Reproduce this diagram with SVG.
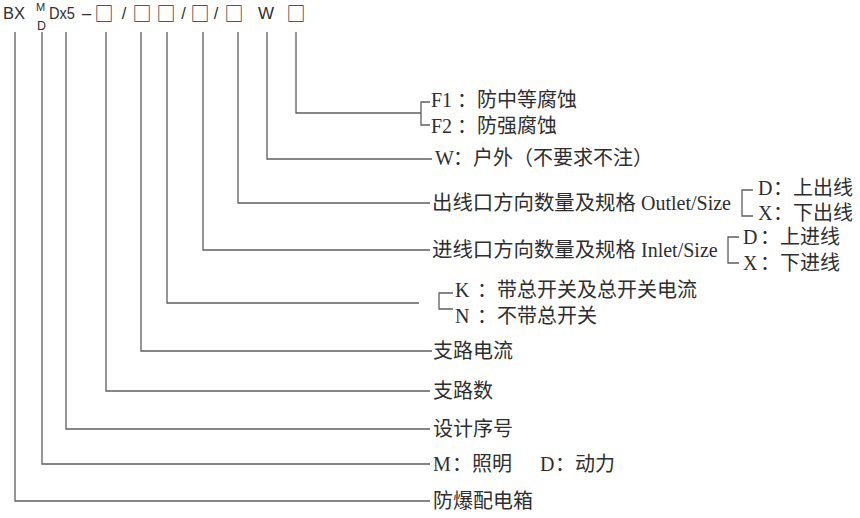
<svg xmlns="http://www.w3.org/2000/svg" width="860" height="518" viewBox="0 0 860 518">
<style>
text{fill:#2e2e2e}
.hd{font-family:"Liberation Sans",Arial,sans-serif;font-size:16.5px}
.bx{font-family:"Noto Sans CJK SC",sans-serif;font-size:19px;text-anchor:middle}
.c{font-family:"Liberation Sans","Noto Sans CJK SC",sans-serif;font-size:20px}
.l{font-family:"Liberation Serif","Times New Roman",serif;font-size:20px}
.ln{stroke:#5e5e5e;stroke-width:1.3;fill:none}
</style>
<rect width="860" height="518" fill="#ffffff"/>
<g id="header">
<text class="hd" x="3" y="19" textLength="22" lengthAdjust="spacingAndGlyphs">BX</text>
<text class="hd" x="36" y="11" style="font-size:11px">M</text>
<text class="hd" x="37" y="30" style="font-size:12.5px">D</text>
<text class="hd" x="49" y="19" textLength="26" lengthAdjust="spacingAndGlyphs">Dx5</text>
<text class="hd" x="82" y="19">–</text>
<text class="bx" x="104" y="21">□</text>
<text class="hd" x="124" y="19" text-anchor="middle">/</text>
<text class="bx" x="142" y="21">□</text>
<text class="bx" x="166" y="21">□</text>
<text class="hd" x="183.5" y="19" text-anchor="middle">/</text>
<text class="bx" x="200" y="21">□</text>
<text class="hd" x="216" y="19" text-anchor="middle">/</text>
<text class="bx" x="234" y="21">□</text>
<text class="hd" x="266" y="19" text-anchor="middle" style="font-size:17px">W</text>
<text class="bx" x="296" y="21">□</text>
</g>
<g id="connectors">
<path class="ln" d="M296,32V113H421M430,102H421V125H430"/>
<path class="ln" d="M267,32V159H432"/>
<path class="ln" d="M238,32V203H430"/>
<path class="ln" d="M753,190H742V216H753"/>
<path class="ln" d="M203,32V250H430"/>
<path class="ln" d="M739,237H728V263H739"/>
<path class="ln" d="M167,32V303H419"/>
<path class="ln" d="M453,293H439V309H453"/>
<path class="ln" d="M141,32V351H432"/>
<path class="ln" d="M106,32V391H430"/>
<path class="ln" d="M66,32V429H430"/>
<path class="ln" d="M42,32V464H430"/>
<path class="ln" d="M15,32V501H430"/>
</g>
<g id="node-f">
<text y="107"><tspan class="l" x="431">F1</tspan><tspan class="c" x="457">：防中等腐蚀</tspan></text>
<text y="133"><tspan class="l" x="431">F2</tspan><tspan class="c" x="457">：防强腐蚀</tspan></text>
</g>
<g id="node-w">
<text y="165"><tspan class="l" x="435">W</tspan><tspan class="c" x="453">：户外（不要求不注）</tspan></text>
</g>
<g id="node-outlet">
<text y="210"><tspan class="c" x="432" style="font-size:20.4px">出线口方向数量及规格</tspan><tspan class="l" x="641">Outlet/Size</tspan></text>
<text y="195"><tspan class="l" x="758">D</tspan><tspan class="c" x="773">：上出线</tspan></text>
<text y="220"><tspan class="l" x="758">X</tspan><tspan class="c" x="773">：下出线</tspan></text>
</g>
<g id="node-inlet">
<text y="257"><tspan class="c" x="432" style="font-size:20.4px">进线口方向数量及规格</tspan><tspan class="l" x="641">Inlet/Size</tspan></text>
<text y="244"><tspan class="l" x="743">D</tspan><tspan class="c" x="760">：上进线</tspan></text>
<text y="270"><tspan class="l" x="743">X</tspan><tspan class="c" x="760">：下进线</tspan></text>
</g>
<g id="node-switch">
<text y="297"><tspan class="l" x="455">K</tspan><tspan class="c" x="477">：带总开关及总开关电流</tspan></text>
<text y="323"><tspan class="l" x="455">N</tspan><tspan class="c" x="477">：不带总开关</tspan></text>
</g>
<g id="node-current"><text class="c" x="433" y="358">支路电流</text></g>
<g id="node-branches"><text class="c" x="433" y="398">支路数</text></g>
<g id="node-design"><text class="c" x="433" y="436">设计序号</text></g>
<g id="node-type">
<text y="471"><tspan class="l" x="433">M</tspan><tspan class="c" x="452">：照明</tspan><tspan class="l" x="540">D</tspan><tspan class="c" x="555">：动力</tspan></text>
</g>
<g id="node-box"><text class="c" x="433" y="508">防爆配电箱</text></g>
</svg>
